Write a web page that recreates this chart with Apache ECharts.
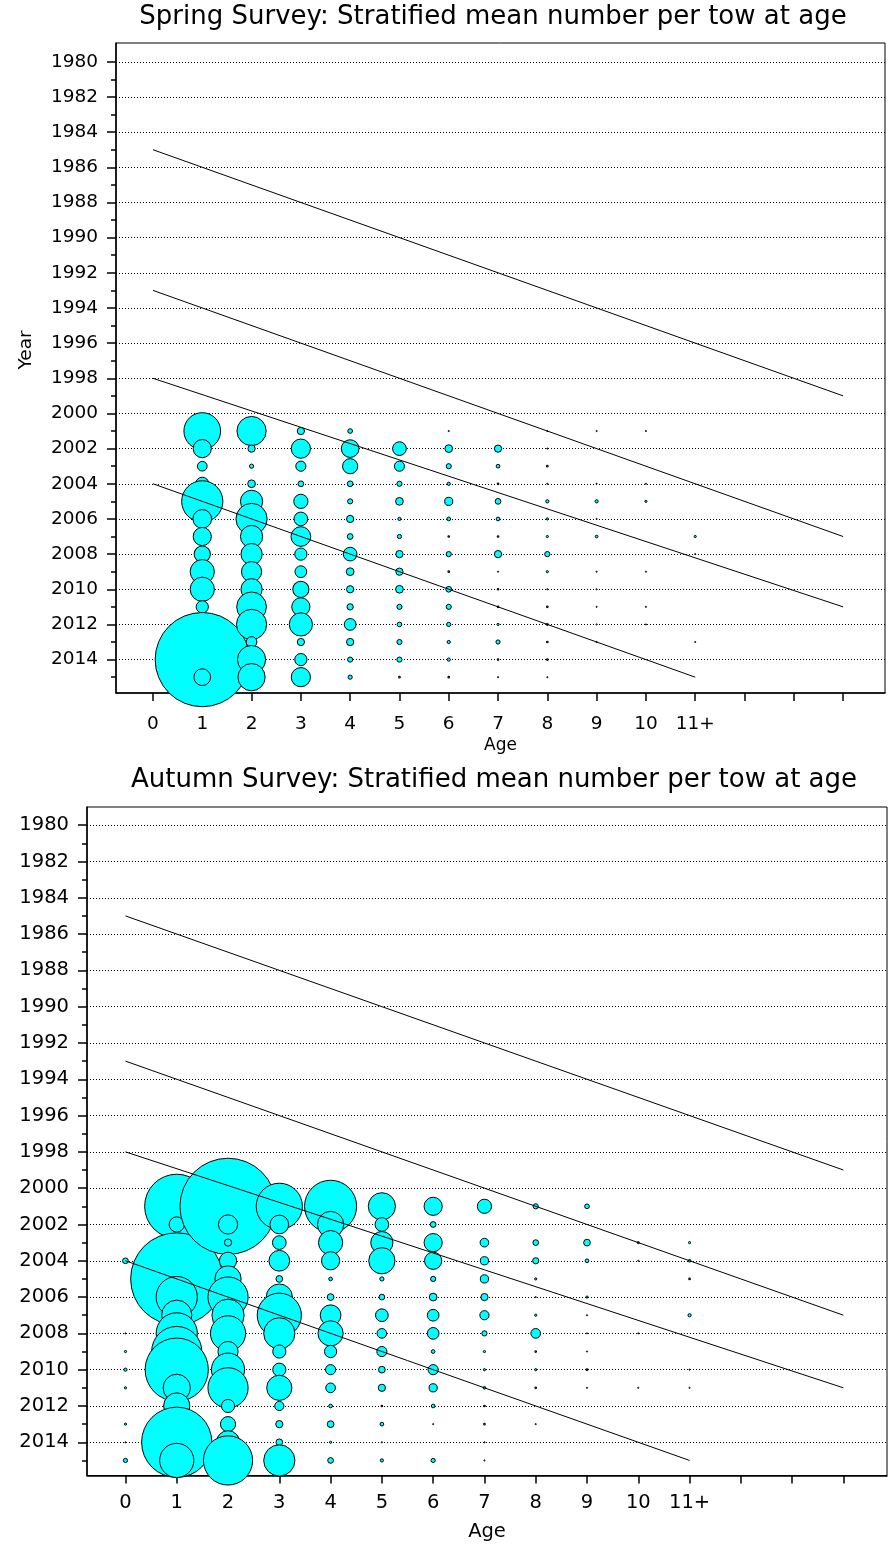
<!DOCTYPE html>
<html>
<head>
<meta charset="utf-8">
<script src="https://cdn.jsdelivr.net/npm/echarts@6/dist/echarts.min.js"></script>
<style>
  html, body { margin: 0; padding: 0; background: #fff; }
  #chart { width: 888px; height: 1550px; }
</style>
</head>
<body>
<div id="chart"></div>
<script>
// Survey years with age-structured catches
const years = [2001, 2002, 2003, 2004, 2005, 2006, 2007, 2008, 2009, 2010, 2011, 2012, 2013, 2014, 2015];

// Axis ticks and labels
const ageTicks = [0, 1, 2, 3, 4, 5, 6, 7, 8, 9, 10, 11, 12, 13, 14];
const ageLabelValues = [0, 1, 2, 3, 4, 5, 6, 7, 8, 9, 10, 11];
const ageLabels = ['0', '1', '2', '3', '4', '5', '6', '7', '8', '9', '10', '11+'];
const yearMajor = [1980, 1982, 1984, 1986, 1988, 1990, 1992, 1994, 1996, 1998, 2000, 2002, 2004, 2006, 2008, 2010, 2012, 2014];
const yearMinor = [1981, 1983, 1985, 1987, 1989, 1991, 1993, 1995, 1997, 1999, 2001, 2003, 2005, 2007, 2009, 2011, 2013, 2015];

// Cohort guide lines: [startAge, startYear, endAge, endYear]
const guideLines = [
  [0, 1985, 14, 1999],
  [0, 1993, 14, 2007],
  [0, 1998, 14, 2011],
  [0, 2004, 11, 2015]
];

// Spring survey: stratified mean number per tow, by age (one value per year above)
const springAge0  = [null, null, null, null, null, null, null, null, null, null, null, null, null, null, null];
const springAge1  = [56.3, 14.4, 4.4, 7.8, 70.6, 15.2, 14.4, 11.6, 25.0, 25.0, 6.8, 4.0, 10.2, 361, 12.3];
const springAge2  = [36.0, 2.6, 1.0, 2.9, 21.2, 41.0, 21.2, 19.4, 17.6, 19.4, 37.2, 38.4, 5.3, 33.6, 31.4];
const springAge3  = [2.6, 16.0, 4.8, 1.7, 9.0, 8.4, 16.8, 6.8, 6.3, 11.6, 14.4, 23.0, 2.6, 6.8, 16.0];
const springAge4  = [1.2, 13.7, 10.2, 1.7, 1.4, 2.6, 1.7, 8.4, 2.9, 2.6, 2.0, 6.3, 2.6, 1.4, 1.0];
const springAge5  = [null, 8.4, 4.8, 1.4, 2.9, 0.64, 1.0, 2.6, 2.6, 2.9, 1.4, 1.2, 1.4, 1.4, 0.25];
const springAge6  = [0.09, 2.9, 1.4, 0.64, 3.2, 0.81, 0.25, 1.4, 0.25, 1.7, 1.4, 1.0, 0.64, 0.64, 0.25];
const springAge7  = [null, 2.6, 0.81, 0.25, 1.7, 0.81, 0.25, 2.6, 0.16, 0.25, 0.25, 0.36, 1.0, 0.25, 0.16];
const springAge8  = [0.16, 0.09, 0.25, 0.16, 0.64, 0.36, 0.36, 1.44, 0.36, 0.09, 0.25, 0.36, 0.25, 0.25, 0.16];
const springAge9  = [0.16, null, null, 0.09, 0.64, 0.09, 0.49, null, 0.16, 0.09, 0.04, 0.09, 0.16, null, null];
const springAge10 = [0.16, null, null, 0.09, 0.36, null, null, null, 0.16, null, 0.04, 0.04, null, null, null];
const springAge11 = [null, null, null, null, null, null, 0.36, 0.04, null, null, null, null, 0.16, null, null];

// Autumn survey: stratified mean number per tow, by age
const autumnAge0  = [null, null, null, 1.69, null, null, null, 0.09, 0.36, 0.64, 0.36, null, 0.36, 0.16, 1.0];
const autumnAge1  = [169, 10.2, 4.0, 16.0, 346, 70.6, 38.4, 70.6, 104, 164, 31.4, 29.2, 16.0, 202, 49.0];
const autumnAge2  = [376, 16.0, 2.56, 13.0, 29.2, 67.2, 43.6, 51.8, 17.6, 46.2, 67.2, 7.8, 10.2, 23.0, 100];
const autumnAge3  = [88.4, 15.2, 8.4, 18.5, 2.25, 29.2, 81.0, 41.0, 7.8, 7.8, 27.0, 4.0, 2.56, 2.25, 41.0];
const autumnAge4  = [112, 29.2, 25.0, 14.4, 0.81, 2.25, 18.5, 27.0, 6.8, 4.8, 4.4, 0.81, 2.25, 0.36, 1.7];
const autumnAge5  = [31.4, 8.4, 21.2, 29.2, 1.0, 1.7, 7.3, 4.4, 4.8, 2.25, 2.56, 0.25, 0.81, 0.16, 0.64];
const autumnAge6  = [14.4, 1.7, 14.4, 13.0, 1.44, 2.9, 6.25, 6.25, 0.81, 4.84, 3.24, 0.81, 0.09, null, 1.0];
const autumnAge7  = [9.0, null, 3.6, 3.24, 3.24, 2.56, 4.0, 1.44, 0.36, 0.36, 0.49, 0.25, 0.25, 0.16, 0.16];
const autumnAge8  = [1.44, null, 1.69, 1.96, 0.36, 0.16, 0.36, 4.4, 0.25, 0.36, 0.25, null, 0.16, null, null];
const autumnAge9  = [1.21, null, 2.25, 0.81, null, 0.36, 0.16, 0.16, 0.16, 0.25, 0.09, null, null, null, null];
const autumnAge10 = [null, null, 0.36, 0.16, null, null, null, 0.09, null, null, 0.09, null, null, null, null];
const autumnAge11 = [null, null, 0.36, 0.49, 0.25, null, 0.64, null, null, 0.16, 0.09, null, null, null, null];

const springByAge = [springAge0, springAge1, springAge2, springAge3, springAge4, springAge5,
                     springAge6, springAge7, springAge8, springAge9, springAge10, springAge11];
const autumnByAge = [autumnAge0, autumnAge1, autumnAge2, autumnAge3, autumnAge4, autumnAge5,
                     autumnAge6, autumnAge7, autumnAge8, autumnAge9, autumnAge10, autumnAge11];

const FONT = 'DejaVu Sans';
// bubble diameter grows with the square root of the catch (area ~ value)
const bubbleSize = d => Math.max(5 * Math.sqrt(d[2]) - 0.8, 1.2);

const panels = [
  { title: 'Spring Survey: Stratified mean number per tow at age', data: springByAge,
    grid: { left: 116, top: 43, width: 769, height: 650 },
    yMin: 1978.93, yMax: 2015.9, yName: 'Year', font: 18.5, nameFont: 17, titleTop: 4, titleX: 493,
    labelMargin: 22, nameGap: 44 },
  { title: 'Autumn Survey: Stratified mean number per tow at age', data: autumnByAge,
    grid: { left: 87, top: 807, width: 800, height: 668.5 },
    yMin: 1979, yMax: 2015.83, yName: '', font: 19.5, nameFont: 19.5, titleTop: 767, titleX: 494,
    labelMargin: 17, nameGap: 46 }
];

const option = {
  animation: false,
  backgroundColor: '#fff',
  title: [],
  grid: [],
  xAxis: [],
  yAxis: [],
  series: []
};

panels.forEach((p, gi) => {
  option.title.push({
    text: p.title, left: p.titleX, top: p.titleTop, textAlign: 'center', padding: 0,
    textStyle: { fontFamily: FONT, fontSize: 26, fontWeight: 'normal', color: '#000' }
  });
  option.grid.push(Object.assign({ show: true, borderColor: '#000', borderWidth: 1,
    backgroundColor: 'transparent', containLabel: false }, p.grid));

  option.xAxis.push({
    gridIndex: gi, type: 'value', min: -0.75, max: 14.85, position: 'bottom',
    name: 'Age', nameLocation: 'middle', nameGap: p.nameGap,
    nameTextStyle: { fontFamily: FONT, fontSize: p.nameFont, color: '#000' },
    axisLine: { show: true, onZero: false, lineStyle: { color: '#000', width: 1.5 } },
    axisTick: { show: true, customValues: ageTicks, length: 8, lineStyle: { color: '#000', width: 1.5 } },
    axisLabel: { show: true, customValues: ageLabelValues, formatter: v => ageLabels[v],
      margin: p.labelMargin, fontFamily: FONT, fontSize: p.font, color: '#000' },
    splitLine: { show: false }
  });

  // main year axis: labelled even years, long ticks, dotted grid lines
  option.yAxis.push({
    gridIndex: gi, type: 'value', inverse: true, min: p.yMin, max: p.yMax, position: 'left',
    name: p.yName, nameLocation: 'middle', nameGap: 80,
    nameTextStyle: { fontFamily: FONT, fontSize: p.font, color: '#000', padding: [0, 0, 0, 36] },
    axisLine: { show: true, onZero: false, lineStyle: { color: '#000', width: 1.5 } },
    axisTick: { show: true, customValues: yearMajor, length: 9, lineStyle: { color: '#000', width: 1.5 } },
    axisLabel: { show: true, customValues: yearMajor, formatter: v => String(v), margin: 18,
      fontFamily: FONT, fontSize: p.font, color: '#000' },
    splitLine: { show: true, lineStyle: { color: '#000', width: 1, type: [1, 2] } }
  });
  // companion axis carrying the short odd-year ticks
  option.yAxis.push({
    gridIndex: gi, type: 'value', inverse: true, min: p.yMin, max: p.yMax, position: 'left',
    axisLine: { show: false, onZero: false },
    axisTick: { show: true, customValues: yearMinor, length: 5, lineStyle: { color: '#000', width: 1.5 } },
    axisLabel: { show: false },
    splitLine: { show: false }
  });

  p.data.forEach((vals, age) => {
    const pts = [];
    vals.forEach((v, i) => { if (v != null) pts.push([age, years[i], v]); });
    option.series.push({
      type: 'scatter', xAxisIndex: gi, yAxisIndex: gi * 2, z: 2, clip: false,
      symbol: 'circle', symbolSize: bubbleSize,
      itemStyle: { color: '#00FFFF', borderColor: '#000', borderWidth: 1, opacity: 1 },
      emphasis: { disabled: true },
      data: pts
    });
  });

  guideLines.forEach(g => {
    option.series.push({
      type: 'line', xAxisIndex: gi, yAxisIndex: gi * 2, z: 3,
      showSymbol: false, symbol: 'none', silent: true,
      lineStyle: { color: '#000', width: 1 },
      data: [[g[0], g[1]], [g[2], g[3]]]
    });
  });
});

const chart = echarts.init(document.getElementById('chart'), null, { renderer: 'canvas' });
chart.setOption(option);
</script>
</body>
</html>
